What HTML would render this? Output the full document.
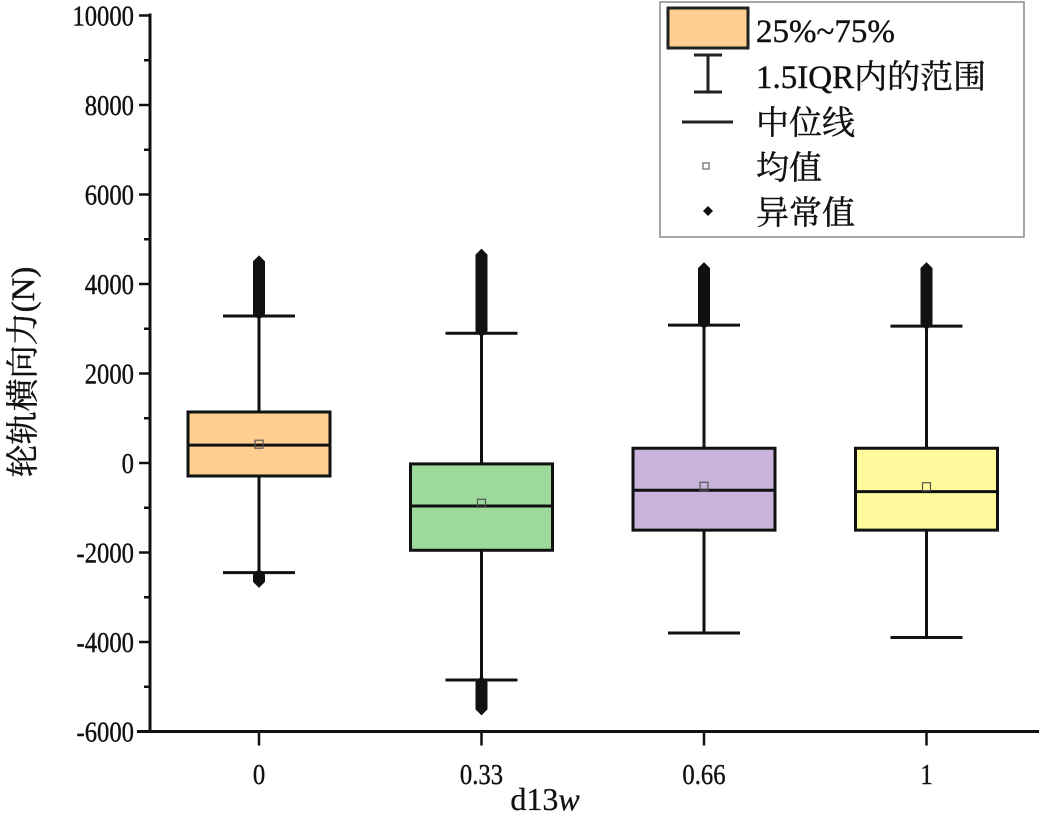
<!DOCTYPE html>
<html><head><meta charset="utf-8"><style>
body{margin:0;background:#fff;}
svg text{font-family:"Liberation Serif","Noto Serif CJK SC",serif;fill:#111;}
</style></head><body>
<svg id="chart" width="1039" height="818" viewBox="0 0 1039 818" xmlns="http://www.w3.org/2000/svg">
<g id="plot"></g>
<g>
<rect x="660" y="2" width="364" height="235" fill="#fff" stroke="#888" stroke-width="1.5"/>
<rect x="668" y="8" width="80" height="40" fill="#FFCF92" stroke="#222" stroke-width="3"/>
<text x="756" y="42" font-size="33" stroke="#111" stroke-width="0.4">25%~75%</text>
<path d="M694 55h28M708 55v37M694 92h28" stroke="#222" stroke-width="3" fill="none"/>
<text x="756" y="88" font-size="33" stroke="#111" stroke-width="0.4">1.5IQR内的范围</text>
<line x1="682" y1="122" x2="733" y2="122" stroke="#222" stroke-width="3"/>
<text x="756" y="134" font-size="33" stroke="#111" stroke-width="0.4">中位线</text>
<rect x="703" y="163" width="6" height="6" fill="none" stroke="#666" stroke-width="1.2"/>
<text x="756" y="179" font-size="33" stroke="#111" stroke-width="0.4">均值</text>
<path d="M708 206l5 5-5 5-5-5z" fill="#111"/>
<text x="756" y="224" font-size="33" stroke="#111" stroke-width="0.4">异常值</text>
</g>
<text transform="translate(34,372) rotate(-90)" text-anchor="middle" font-size="33" stroke="#111" stroke-width="0.4">轮轨横向力(N)</text>
<text x="545" y="810" text-anchor="middle" font-size="32" stroke="#111" stroke-width="0.3">d13<tspan font-style="italic">w</tspan></text>
</svg>
<script>
const categories=["0","0.33","0.66","1"];
const q1=[-290,-1950,-1500,-1500];
const q3=[1140,-20,330,330];
const medians=[400,-960,-610,-640];
const means=[420,-900,-520,-530];
const whiskLow=[-2450,-4850,-3800,-3900];
const whiskHigh=[3285,2900,3080,3060];
const outHigh=[4550,4700,4400,4400];
const outLow=[-2700,-5550,null,null];
const colors=["#FFCF92","#9ED99C","#C9B3DA","#FFFB9C"];
const yTicks=[-6000,-4000,-2000,0,2000,4000,6000,8000,10000];
const NS="http://www.w3.org/2000/svg";
const g=document.getElementById('plot');
const y=v=>463-v*0.04475;
const x=i=>259+i*222.5;
function mk(t,a,p){const e=document.createElementNS(NS,t);for(const k in a)e.setAttribute(k,a[k]);(p||g).appendChild(e);return e;}
let e;
e=mk('line',{x1:150,y1:y(10000)-2,x2:150,y2:y(-6000),stroke:'#111','stroke-width':3});


e=mk('line',{x1:137,y1:y(-6000),x2:1039,y2:y(-6000),stroke:'#111','stroke-width':3});


yTicks.forEach((v,i)=>{
  mk('line',{x1:139,y1:y(v),x2:150,y2:y(v),stroke:'#111','stroke-width':2.5});
  if(i<yTicks.length-1)mk('line',{x1:144,y1:y(v+1000),x2:150,y2:y(v+1000),stroke:'#111','stroke-width':2.5});
  e=mk('text',{x:134,y:y(v)+10,'text-anchor':'end','font-size':29,stroke:'#111','stroke-width':0.4});
  e.setAttribute('transform',`translate(134,0) scale(0.85,1) translate(-134,0)`);
  e.textContent=v;
  
  
});
categories.forEach((c,i)=>{
  const cx=x(i);
  mk('line',{x1:cx,y1:y(-6000),x2:cx,y2:y(-6000)+14,stroke:'#111','stroke-width':2.5});
  e=mk('text',{x:cx,y:784,'text-anchor':'middle','font-size':29,stroke:'#111','stroke-width':0.4,transform:`translate(${cx},0) scale(0.85,1) translate(${-cx},0)`});
  e.textContent=c;
  
  
  const bg=mk('g',{});
  
  
  mk('line',{x1:cx,y1:y(whiskHigh[i]),x2:cx,y2:y(whiskLow[i]),stroke:'#111','stroke-width':3},bg);
  mk('line',{x1:cx-36,y1:y(whiskHigh[i]),x2:cx+36,y2:y(whiskHigh[i]),stroke:'#111','stroke-width':3},bg);
  mk('line',{x1:cx-36,y1:y(whiskLow[i]),x2:cx+36,y2:y(whiskLow[i]),stroke:'#111','stroke-width':3},bg);
  mk('rect',{x:cx-71,y:y(q3[i]),width:142,height:y(q1[i])-y(q3[i]),fill:colors[i],stroke:'#111','stroke-width':3},bg);
  mk('line',{x1:cx-71,y1:y(medians[i]),x2:cx+71,y2:y(medians[i]),stroke:'#111','stroke-width':3},bg);
  mk('rect',{x:cx-4,y:y(means[i])-4,width:8,height:8,fill:'none',stroke:'#555','stroke-width':1.2},bg);
  const drawOut=(a,b)=>{const y1=Math.min(y(a),y(b)),y2=Math.max(y(a),y(b));
    mk('path',{d:`M${cx} ${y1-4}L${cx+6} ${y1+2}L${cx+6} ${y2-2}L${cx} ${y2+4}L${cx-6} ${y2-2}L${cx-6} ${y1+2}Z`,fill:'#111'},bg);};
  if(outHigh[i]!==null)drawOut(whiskHigh[i],outHigh[i]);
  if(outLow[i]!==null)drawOut(whiskLow[i],outLow[i]);
});
</script>
</body></html>
